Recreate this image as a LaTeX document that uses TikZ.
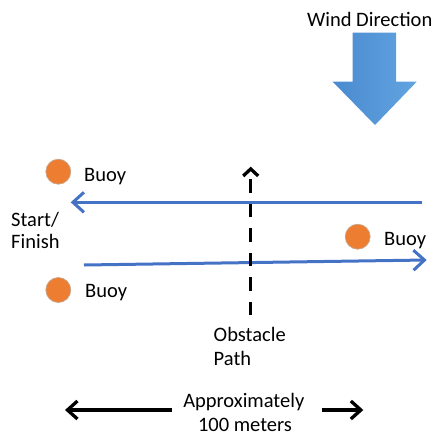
\documentclass[tikz,border=0pt]{standalone}
\usepackage{fontspec}
\setmainfont{Carlito}
\usetikzlibrary{arrows.meta}
\definecolor{buoyfill}{HTML}{ED7D31}
\definecolor{buoyedge}{HTML}{C9A88E}
\definecolor{lapblue}{HTML}{4472C4}
\definecolor{winddark}{HTML}{4A8AD0}
\definecolor{windlight}{HTML}{62A4E0}
\tikzset{
  lbl/.style={inner sep=0pt, font=\fontsize{20.5}{23.3}\selectfont},
  buoy/.style={circle, fill=buoyfill, draw=buoyedge, line width=0.7pt, minimum size=25pt, inner sep=0pt},
  lap/.style={draw=lapblue, line width=3pt,
    -{Straight Barb[length=11pt,width=20pt]}},
  span/.style={draw=black, line width=3.3pt,
    -{Straight Barb[length=10pt,width=18pt]}},
}
\begin{document}
\begin{tikzpicture}[x=1pt,y=-1pt]
  \useasboundingbox (0,0) rectangle (434,437);

  % wind direction
  \node[lbl, anchor=base] (windlbl) at (369.7,26.5) {Wind Direction};
  \shade[left color=winddark, right color=windlight]
    (352.7,32.7) -- (396,32.7) -- (396,81.7) -- (416.7,81.7)
    -- (375,125) -- (332.7,81.7) -- (352.7,81.7) -- cycle;

  % buoys
  \node[buoy] (b1) at (58.3,171.7) {};
  \node[buoy] (b2) at (357.7,236.7) {};
  \node[buoy] (b3) at (58.3,290) {};
  \node[lbl, anchor=base west] (b1lbl) at (84,181) {Buoy};
  \node[lbl, anchor=base west] (b2lbl) at (384,245) {Buoy};
  \node[lbl, anchor=base west] (b3lbl) at (85,297.5) {Buoy};

  % start / finish
  \node[lbl, anchor=base west] (start) at (11,226.7) {Start/};
  \node[lbl, anchor=base west] (finish) at (11,248) {Finish};

  % lap lines
  \coordinate (upR) at (421.7,202.3);
  \coordinate (upL) at (70.7,202.3);
  \coordinate (loL) at (84,265);
  \coordinate (loR) at (426.7,260);
  \draw[lap] (upR) -- (upL);
  \draw[lap] (loL) -- (loR);

  % obstacle path
  \coordinate (obsB) at (250.7,315);
  \coordinate (obsT) at (250.7,166.7);
  \draw[line width=3.3pt, dash pattern=on 13.5pt off 11pt,
    -{Straight Barb[length=7pt,width=15pt]}] (obsB) -- (obsT);
  \node[lbl, anchor=base west] (obs1) at (213.5,341.7) {Obstacle};
  \node[lbl, anchor=base west] (obs2) at (213.5,365) {Path};

  % distance
  \node[lbl, anchor=base] (dist) at (243.8,407.5) {Approximately};
  \node[lbl, anchor=base] (dist2) at (245,431) {100 meters};
  \coordinate (dL) at (65,410);
  \coordinate (dR) at (363.3,410);
  \draw[span] (171.7,410) -- (dL);
  \draw[span] (321.7,410) -- (dR);
\end{tikzpicture}
\end{document}
